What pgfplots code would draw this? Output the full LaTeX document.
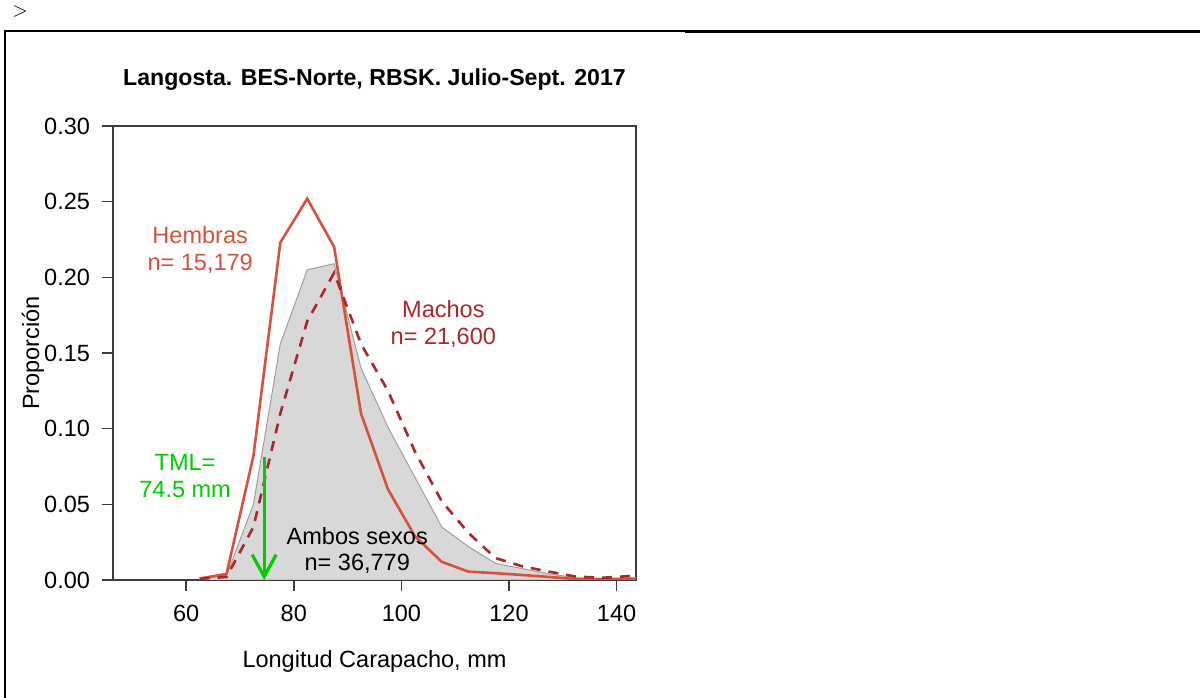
\documentclass[border=0pt]{standalone}
\usepackage{fontspec}
\setmainfont{Liberation Sans}
\usepackage{pgfplots}
\usepackage{pgfplotstable}
\pgfplotsset{compat=1.18}
\usetikzlibrary{arrows.meta}

\definecolor{hembras}{RGB}{214,82,60}
\definecolor{machos}{RGB}{168,40,44}
\definecolor{ambosfill}{RGB}{216,216,216}
\definecolor{ambosedge}{RGB}{160,160,160}
\definecolor{tml}{RGB}{0,205,0}
\definecolor{axisgray}{RGB}{60,60,60}

% Length-frequency proportions by 5 mm carapace-length class (midpoints)
\pgfplotstableread{
x      p
62.5   0.0010
67.5   0.0040
72.5   0.0820
77.5   0.2230
82.5   0.2520
87.5   0.2200
92.5   0.1100
97.5   0.0600
102.5  0.0290
107.5  0.0120
112.5  0.0055
117.5  0.0045
122.5  0.0033
127.5  0.0020
132.5  0.0006
137.5  0.0006
142.5  0.0006
147.5  0.0006
}\hembras

\pgfplotstableread{
x      p
62.5   0.0008
67.5   0.0020
72.5   0.0350
77.5   0.1100
82.5   0.1710
87.5   0.2030
92.5   0.1560
97.5   0.1250
102.5  0.0850
107.5  0.0520
112.5  0.0310
117.5  0.0145
122.5  0.0090
127.5  0.0055
132.5  0.0022
137.5  0.0015
142.5  0.0026
147.5  0.0035
}\machos

\pgfplotstableread{
x      p
62.5   0.0005
67.5   0.0030
72.5   0.0500
77.5   0.1560
82.5   0.2050
87.5   0.2090
92.5   0.1400
97.5   0.1010
102.5  0.0680
107.5  0.0350
112.5  0.0220
117.5  0.0110
122.5  0.0075
127.5  0.0040
132.5  0.0015
137.5  0.0010
142.5  0.0015
147.5  0.0020
}\ambos

\begin{document}
\begin{tikzpicture}[font=\fontsize{11.8}{13.5}\selectfont]
% page area and the surrounding frame
\useasboundingbox (-56.5bp,-59bp) rectangle (543.5bp,290bp);
\draw[line width=1bp] (-54bp,-59bp) -- (-54bp,274.5bp) -- (286bp,274.5bp);
\draw[line width=1.5bp] (286bp,274.2bp) -- (543.5bp,274.2bp);
\node[font=\fontsize{10}{12}\selectfont] at (-46.5bp,284bp) {$>$};

\begin{axis}[
  at={(0,0)}, anchor=south west,
  scale only axis, width=261.5bp, height=227bp,
  xmin=46.4, xmax=143.6, ymin=0, ymax=0.30,
  xtick={60,80,100,120,140},
  ytick={0,0.05,0.10,0.15,0.20,0.25,0.30},
  xtick pos=bottom, ytick pos=left,
  tick align=outside, major tick length=5.5bp,
  axis line style={draw=axisgray, line width=0.75bp},
  tick style={draw=axisgray, line width=0.75bp},
  /pgf/number format/assume math mode=true,
  yticklabel style={xshift=-2.5bp,
    /pgf/number format/.cd, fixed, fixed zerofill, precision=2},
  xticklabel style={yshift=-3.5bp},
  scaled y ticks=false,
  clip=true,
]
\addplot[fill=ambosfill, draw=ambosedge, line width=0.5bp]
  table[x=x, y=p] {\ambos} \closedcycle;
\addplot[hembras, line width=1.3bp] table[x=x, y=p] {\hembras};
\addplot[machos, line width=1.3bp, dash pattern=on 5bp off 4bp]
  table[x=x, y=p] {\machos};
% minimum legal size marker
\addplot[tml, line width=1.6bp, -{Straight Barb[length=11bp, width=12bp]}]
  coordinates {(74.5,0.081) (74.5,0.0)};

\node[hembras, align=center] at (axis cs:62.6,0.218) {Hembras\\n= 15,179};
\node[machos, align=center] at (axis cs:107.8,0.169) {Machos\\n= 21,600};
\node[tml, align=center] at (axis cs:59.8,0.0687) {TML=\\74.5 mm};
\node[black, align=center] at (axis cs:91.8,0.0195) {Ambos sexos\\n= 36,779};
\end{axis}

\node[font=\fontsize{11.6}{13.5}\selectfont\bfseries] at (130.75bp,250bp)
  {Langosta. BES-Norte, RBSK. Julio-Sept. 2017};
\node at (130.75bp,-40.5bp) {Longitud Carapacho, mm};
\node[rotate=90] at (-40bp,113.5bp) {Proporción};
\end{tikzpicture}
\end{document}
